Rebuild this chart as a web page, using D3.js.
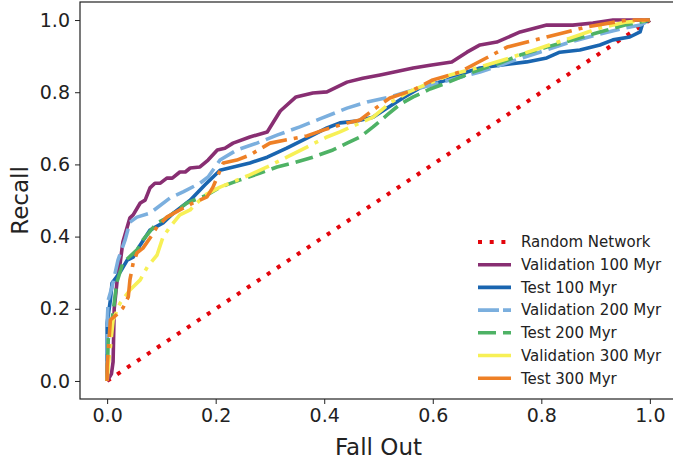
<!DOCTYPE html>
<html>
<head>
<meta charset="utf-8">
<script src="https://cdn.jsdelivr.net/npm/d3@7"></script>
<style>
  html, body { margin: 0; padding: 0; background: #fff; }
  svg { display: block; font-family: "DejaVu Sans", sans-serif; }
</style>
</head>
<body>
<svg id="chart" width="673" height="465"></svg>
<script>
// ---- Data (Fall Out, Recall) ----
const xTicks = [0.0, 0.2, 0.4, 0.6, 0.8, 1.0];
const yTicks = [0.0, 0.2, 0.4, 0.6, 0.8, 1.0];

const randomNetwork = [[0, 0], [1, 1]];

const validation100 = [
  [0,0],[0.008,0.02],[0.011,0.053],[0.013,0.2],[0.02,0.3],[0.024,0.327],[0.029,0.385],
  [0.042,0.452],[0.048,0.460],[0.061,0.493],[0.070,0.501],[0.079,0.535],[0.088,0.548],
  [0.098,0.548],[0.110,0.562],[0.120,0.562],[0.134,0.579],[0.144,0.579],[0.153,0.590],
  [0.171,0.593],[0.186,0.612],[0.203,0.640],[0.217,0.645],[0.232,0.659],[0.263,0.676],
  [0.295,0.690],[0.319,0.748],[0.348,0.787],[0.379,0.798],[0.405,0.801],[0.442,0.828],
  [0.471,0.839],[0.503,0.848],[0.564,0.867],[0.595,0.875],[0.635,0.884],[0.663,0.911],
  [0.687,0.931],[0.718,0.939],[0.761,0.967],[0.810,0.986],[0.858,0.986],[0.895,0.992],
  [0.932,1.0],[1,1]
];

const test100 = [
  [0,0],[0,0.16],[0.006,0.224],[0.009,0.271],[0.024,0.302],[0.037,0.335],[0.048,0.343],
  [0.061,0.377],[0.079,0.418],[0.103,0.438],[0.122,0.465],[0.153,0.501],[0.180,0.543],
  [0.208,0.584],[0.263,0.604],[0.295,0.620],[0.331,0.645],[0.368,0.673],[0.405,0.701],
  [0.429,0.715],[0.460,0.720],[0.490,0.731],[0.516,0.756],[0.545,0.784],[0.576,0.812],
  [0.626,0.834],[0.663,0.856],[0.687,0.867],[0.724,0.875],[0.773,0.884],[0.810,0.895],
  [0.834,0.911],[0.871,0.917],[0.908,0.931],[0.932,0.945],[0.963,0.953],[0.982,0.967],
  [0.987,0.992],[1,1]
];

const validation200 = [
  [0,0],[0,0.16],[0.002,0.224],[0.009,0.26],[0.02,0.335],[0.033,0.39],[0.042,0.44],
  [0.055,0.454],[0.079,0.465],[0.116,0.507],[0.14,0.524],[0.171,0.548],[0.186,0.565],
  [0.208,0.612],[0.239,0.64],[0.276,0.659],[0.313,0.681],[0.355,0.704],[0.392,0.726],
  [0.442,0.756],[0.479,0.773],[0.521,0.787],[0.576,0.812],[0.632,0.834],[0.687,0.856],
  [0.742,0.884],[0.797,0.911],[0.853,0.939],[0.908,0.961],[0.954,0.978],[0.982,0.986],[1,1]
];

const test200 = [
  [0,0],[0.002,0.114],[0.009,0.169],[0.018,0.274],[0.029,0.327],[0.055,0.363],[0.066,0.391],
  [0.092,0.438],[0.103,0.446],[0.122,0.465],[0.147,0.493],[0.184,0.515],[0.208,0.537],
  [0.245,0.557],[0.282,0.576],[0.313,0.593],[0.343,0.604],[0.379,0.620],[0.416,0.640],
  [0.442,0.659],[0.466,0.676],[0.490,0.704],[0.516,0.737],[0.540,0.767],[0.564,0.787],
  [0.595,0.809],[0.626,0.826],[0.674,0.856],[0.724,0.881],[0.761,0.903],[0.810,0.925],
  [0.858,0.945],[0.908,0.967],[0.954,0.986],[1,1]
];

const validation300 = [
  [0,0],[0.002,0.044],[0.006,0.094],[0.011,0.169],[0.024,0.216],[0.042,0.252],[0.061,0.280],
  [0.074,0.316],[0.092,0.349],[0.103,0.399],[0.116,0.427],[0.134,0.460],[0.153,0.474],
  [0.180,0.515],[0.208,0.537],[0.263,0.571],[0.295,0.593],[0.331,0.620],[0.368,0.648],
  [0.405,0.676],[0.429,0.690],[0.466,0.715],[0.490,0.731],[0.521,0.770],[0.552,0.798],
  [0.576,0.814],[0.632,0.848],[0.687,0.870],[0.742,0.895],[0.797,0.922],[0.853,0.950],
  [0.908,0.978],[0.954,0.994],[1,1]
];

const test300 = [
  [0,0],[0,0.039],[0.006,0.169],[0.017,0.183],[0.029,0.202],[0.039,0.233],[0.042,0.280],
  [0.048,0.327],[0.055,0.355],[0.066,0.368],[0.079,0.396],[0.092,0.427],[0.110,0.454],
  [0.134,0.474],[0.158,0.493],[0.184,0.510],[0.195,0.537],[0.214,0.604],[0.239,0.612],
  [0.263,0.626],[0.300,0.659],[0.337,0.670],[0.368,0.679],[0.398,0.695],[0.442,0.715],
  [0.466,0.723],[0.490,0.751],[0.521,0.784],[0.564,0.806],[0.600,0.834],[0.650,0.856],
  [0.681,0.881],[0.737,0.925],[0.810,0.953],[0.884,0.981],[0.958,1.0],[1,1]
];

const seriesNames = ["Random Network", "Validation 100 Myr", "Test 100 Myr",
  "Validation 200 Myr", "Test 200 Myr", "Validation 300 Myr", "Test 300 Myr"];
const seriesData = [randomNetwork, validation100, test100, validation200, test200, validation300, test300];
const seriesColors = ["#E3050C", "#882E72", "#1965B0", "#7BAFDE", "#4EB265", "#F7F056", "#EE8026"];
const seriesDash = ["4,8", null, null, "20,7", "18,7", "26,7,4,7", "26,7,4,7"];
const legendDash = ["4,7.7", null, null, "21,4", "18,7", "34,7", "34,7"];

// ---- Layout ----
const svg = d3.select("#chart");
const mLeft = 80, mRight = 677, mTop = 2, mBottom = 399;

const x = d3.scaleLinear().domain([-0.05, 1.05]).range([mLeft, mRight]);
const y = d3.scaleLinear().domain([-0.05, 1.05]).range([mBottom, mTop]);

const line = d3.line().x(d => x(d[0])).y(d => y(d[1]));

const plot = svg.append("g");
seriesData.forEach((data, i) => {
  plot.append("path")
    .datum(data)
    .attr("d", line)
    .attr("fill", "none")
    .attr("stroke", seriesColors[i])
    .attr("stroke-width", i === 0 ? 4 : 3.6)
    .attr("stroke-linejoin", "round")
    .attr("stroke-dasharray", seriesDash[i]);
});

// ---- Axes ----
const xAxis = d3.axisBottom(x).tickValues(xTicks).tickFormat(d3.format(".1f")).tickSize(5).tickPadding(5);
const yAxis = d3.axisLeft(y).tickValues(yTicks).tickFormat(d3.format(".1f")).tickSize(5).tickPadding(5);

const gx = svg.append("g").attr("transform", `translate(0,${mBottom})`).call(xAxis);
const gy = svg.append("g").attr("transform", `translate(${mLeft},0)`).call(yAxis);
[gx, gy].forEach(g => {
  g.select(".domain").remove();
  g.selectAll("line").attr("stroke", "#222").attr("stroke-width", 1);
  g.selectAll("text").attr("fill", "#222").style("font-size", "19px").style("font-family", "DejaVu Sans, sans-serif");
});

// frame
svg.append("rect")
  .attr("x", mLeft).attr("y", mTop)
  .attr("width", mRight - mLeft).attr("height", mBottom - mTop)
  .attr("fill", "none").attr("stroke", "#222").attr("stroke-width", 1.2);

// axis labels
svg.append("text")
  .attr("x", (mLeft + mRight) / 2).attr("y", 455)
  .attr("text-anchor", "middle")
  .attr("fill", "#222")
  .style("font-size", "23px")
  .text("Fall Out");

svg.append("text")
  .attr("transform", `translate(28,${(mTop + mBottom) / 2}) rotate(-90)`)
  .attr("text-anchor", "middle")
  .attr("fill", "#222")
  .style("font-size", "23px")
  .text("Recall");

// ---- Legend ----
const legend = svg.append("g");
const legY0 = 242, legStep = 22.7;
seriesNames.forEach((name, i) => {
  const yy = legY0 + i * legStep;
  legend.append("line")
    .attr("x1", 478).attr("x2", 511).attr("y1", yy).attr("y2", yy)
    .attr("stroke", seriesColors[i])
    .attr("stroke-width", i === 0 ? 4 : 3.6)
    .attr("stroke-dasharray", legendDash[i]);
  legend.append("text")
    .attr("x", 521).attr("y", yy + 5.3)
    .attr("fill", "#222")
    .style("font-size", "15px")
    .text(name);
});
</script>
</body>
</html>
